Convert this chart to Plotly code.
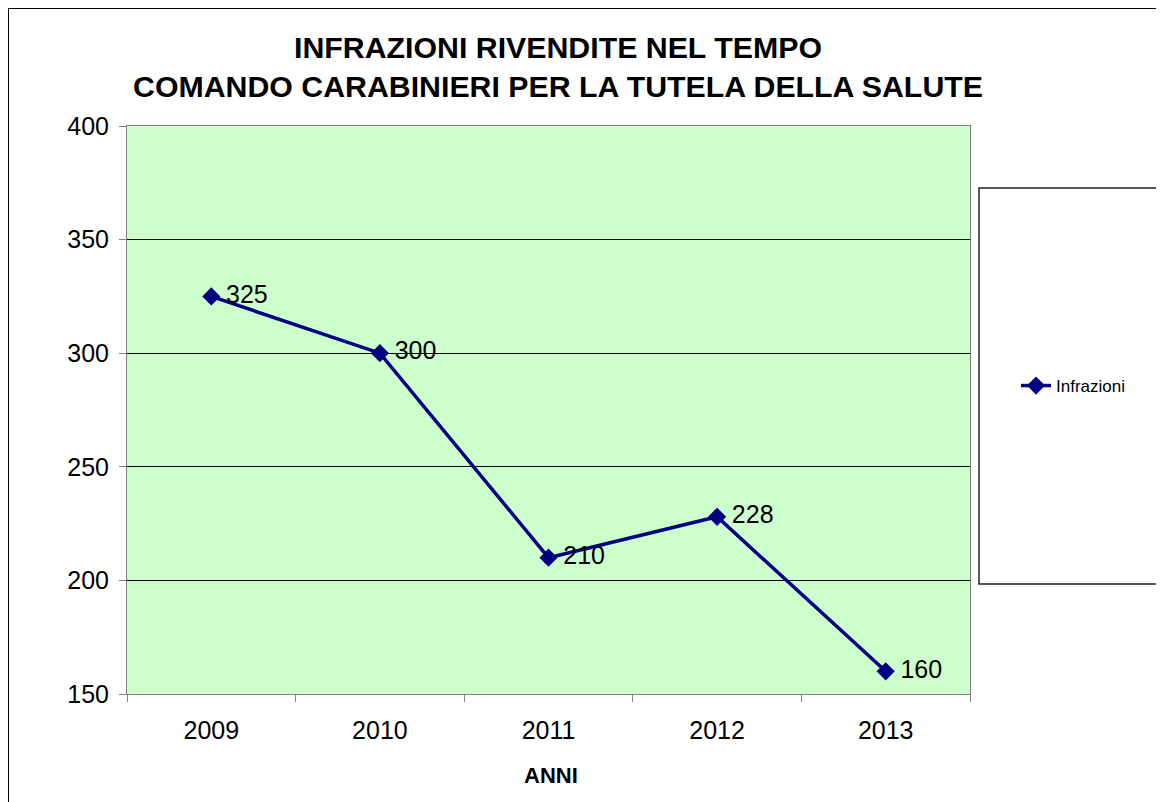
import plotly.graph_objects as go

years = ["2009", "2010", "2011", "2012", "2013"]
infrazioni = [325, 300, 210, 228, 160]
title_line1 = "INFRAZIONI RIVENDITE NEL TEMPO"
title_line2 = "COMANDO CARABINIERI PER LA TUTELA DELLA SALUTE"
x_title = "ANNI"
series_name = "Infrazioni"

FONT = "Arial, Liberation Sans, sans-serif"
NAVY = "#000080"

# page has an 8px body margin; work in page pixel coordinates
OFF = 8
L, R, T, B = 127, 970, 126, 694  # plot area in page pixels
W, H = 1164 - OFF, 802 - OFF
pw, ph = R - L, B - T

def px_x(x):
    return (x - L) / pw

def px_y(y):
    return (B - y) / ph

fig = go.Figure()
fig.add_trace(go.Scatter(
    x=years, y=infrazioni, name=series_name,
    mode="lines+markers+text",
    text=["\u2009" + str(v) for v in infrazioni],
    textposition="middle right",
    textfont=dict(family=FONT, size=25, color="black"),
    line=dict(color=NAVY, width=3.5),
    marker=dict(symbol="diamond", size=14, color=NAVY),
))

fig.update_layout(
    width=W, height=H,
    margin=dict(l=L - OFF, r=W - (R - OFF), t=T - OFF, b=H - (B - OFF), autoexpand=False),
    paper_bgcolor="white",
    plot_bgcolor="#CCFFCC",
    font=dict(family=FONT, color="black"),
    showlegend=True,
    legend=dict(
        x=px_x(1016), y=px_y(386), xanchor="left", yanchor="middle",
        bgcolor="rgba(0,0,0,0)", borderwidth=0,
        font=dict(family=FONT, size=17, color="black"),
    ),
    xaxis=dict(
        type="category", range=[-0.5, 4.5],
        tickson="boundaries", ticks="outside", ticklen=7, tickcolor="#808080",
        showline=True, linecolor="#808080", linewidth=1, mirror=True,
        showgrid=False,
        tickfont=dict(family=FONT, size=25, color="black"),
        ticklabelstandoff=14,
    ),
    yaxis=dict(
        range=[150, 400], dtick=50, tick0=150,
        ticks="outside", ticklen=7, tickcolor="#808080",
        showline=True, linecolor="#808080", linewidth=1, mirror=True,
        showgrid=True, gridcolor="black", gridwidth=1,
        zeroline=False,
        tickfont=dict(family=FONT, size=25, color="black"),
        ticklabelstandoff=5,
    ),
    shapes=[
        dict(type="rect", xref="paper", yref="paper",
             x0=px_x(8.5), x1=px_x(1190), y0=px_y(830), y1=px_y(8.5),
             line=dict(color="black", width=1), fillcolor="rgba(0,0,0,0)", layer="above"),
        dict(type="rect", xref="paper", yref="paper",
             x0=px_x(979), x1=px_x(1190), y0=px_y(584), y1=px_y(188),
             line=dict(color="#202020", width=1.5), fillcolor="rgba(0,0,0,0)", layer="above"),
    ],
    annotations=[
        dict(text="<b>%s</b>" % title_line1, xref="paper", yref="paper",
             x=px_x(558), y=px_y(47), xanchor="center", yanchor="middle",
             showarrow=False, font=dict(family=FONT, size=30.3, color="black")),
        dict(text="<b>%s</b>" % title_line2, xref="paper", yref="paper",
             x=px_x(558), y=px_y(87), xanchor="center", yanchor="middle",
             showarrow=False, font=dict(family=FONT, size=30.3, color="black")),
        dict(text="<b>%s</b>" % x_title, xref="paper", yref="paper",
             x=px_x(551), y=px_y(775), xanchor="center", yanchor="middle",
             showarrow=False, font=dict(family=FONT, size=22, color="black")),
    ],
)

fig.write_html("out.html")
